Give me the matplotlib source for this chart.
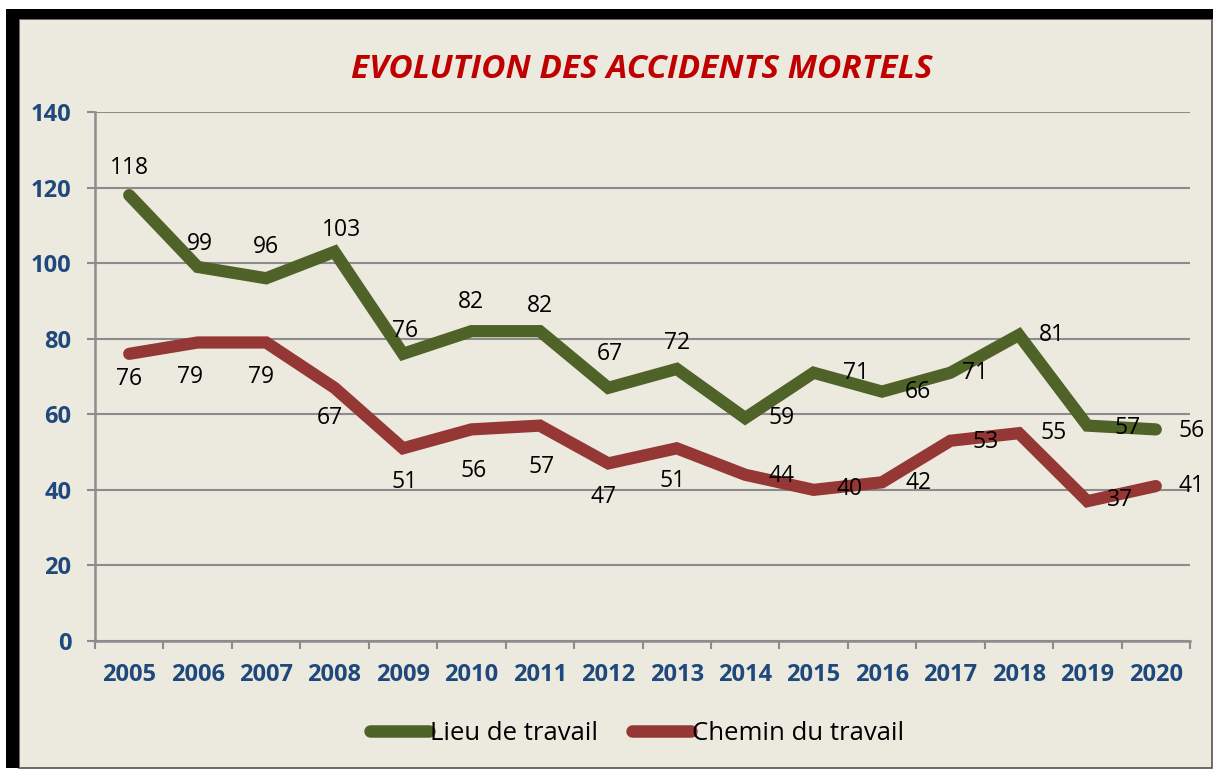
import matplotlib.pyplot as plt
from matplotlib.patches import Rectangle

years = [str(y) for y in range(2005, 2021)]
lieu = [118, 99, 96, 103, 76, 82, 82, 67, 72, 59, 71, 66, 71, 81, 57, 56]
chemin = [76, 79, 79, 67, 51, 56, 57, 47, 51, 44, 40, 42, 53, 55, 37, 41]

# label offsets in pixels (dx, dy upward)
lieu_off = [(0, 27), (2, 23), (0, 31), (7, 22), (2, 23), (0, 29), (0, 25), (2, 34),
            (0, 26), (36, 0), (42, 0), (36, 0), (25, 0), (33, 0), (40, -2), (36, -2)]
chemin_off = [(0, -25), (-8, -35), (-5, -35), (-5, -30), (2, -34), (2, -42), (2, -41), (-5, -34),
              (-4, -33), (36, -1), (36, 1), (37, -1), (35, -1), (35, 0), (33, 1), (36, 0)]

W, H = 1213, 771
fig = plt.figure(figsize=(W / 100, H / 100), dpi=100, facecolor="white")
bg = "#ECEADF"
fig.patches.append(Rectangle((19 / W, 3 / H), 1193 / W, 749 / H, transform=fig.transFigure,
                             facecolor=bg, edgecolor="#555555", lw=1.2, zorder=-2))
fig.patches.append(Rectangle((6 / W, 3 / H), 13 / W, 759 / H, transform=fig.transFigure,
                             facecolor="black", edgecolor="none", zorder=-1))
fig.patches.append(Rectangle((6 / W, 752 / H), 1207 / W, 10 / H, transform=fig.transFigure,
                             facecolor="black", edgecolor="none", zorder=-1))

ax = fig.add_axes([95 / W, (H - 641) / H, 1095 / W, 529 / H])
ax.set_facecolor("none")
x = list(range(len(years)))
green, red = "#4F6228", "#953735"
ax.plot(x, lieu, color=green, lw=8.8, solid_capstyle="round", solid_joinstyle="miter", zorder=3,
        label="Lieu de travail")
ax.plot(x, chemin, color=red, lw=8.8, solid_capstyle="round", solid_joinstyle="miter", zorder=3,
        label="Chemin du travail")

lab_font = dict(fontsize=16.5, family="Open Sans", color="black")
for xi, v, (dx, dy) in zip(x, lieu, lieu_off):
    ax.annotate(str(v), (xi, v), xytext=(dx, dy), textcoords="offset pixels",
                ha="center", va="center", zorder=4, **lab_font)
for xi, v, (dx, dy) in zip(x, chemin, chemin_off):
    ax.annotate(str(v), (xi, v), xytext=(dx, dy), textcoords="offset pixels",
                ha="center", va="center", zorder=4, **lab_font)

ax.set_xlim(-0.5, len(years) - 0.5)
ax.set_ylim(0, 140)
ax.set_yticks(range(0, 141, 20))
ax.grid(axis="y", color="#8C8C8C", lw=1.5)
ax.set_axisbelow(True)

ax.set_xticks([i - 0.5 for i in range(len(years) + 1)])
ax.set_xticklabels([])
ax.set_xticks(x, minor=True)
ax.set_xticklabels(years, minor=True)
ax.tick_params(axis="x", which="major", length=6, width=1.5, color="#8C8C8C")
ax.tick_params(axis="x", which="minor", length=0, pad=16)
ax.tick_params(axis="y", length=6, width=1.5, color="#8C8C8C", pad=11)
for lbl in ax.get_xticklabels(minor=True) + ax.get_yticklabels():
    lbl.set_fontfamily("Open Sans")
    lbl.set_fontweight("bold")
    lbl.set_fontsize(17)
    lbl.set_color("#1F497D")

for s in ["top", "right"]:
    ax.spines[s].set_visible(False)
for s in ["left", "bottom"]:
    ax.spines[s].set_color("#8C8C8C")
    ax.spines[s].set_linewidth(1.8)

fig.text(642 / W, 1 - 70 / H, "EVOLUTION DES ACCIDENTS MORTELS", ha="center", va="center",
         fontsize=24, family="Open Sans", fontweight="bold", style="italic", color="#C00000")

leg = fig.legend(loc="center", bbox_to_anchor=(637 / W, 1 - 733 / H), ncol=2, frameon=False,
                 prop={"family": "Open Sans", "size": 18.5}, handlelength=2.3, handletextpad=0.05,
                 columnspacing=1.3)
for ln in leg.get_lines():
    ln.set_linewidth(9)

fig.savefig("out.png", dpi=100, facecolor="white")
